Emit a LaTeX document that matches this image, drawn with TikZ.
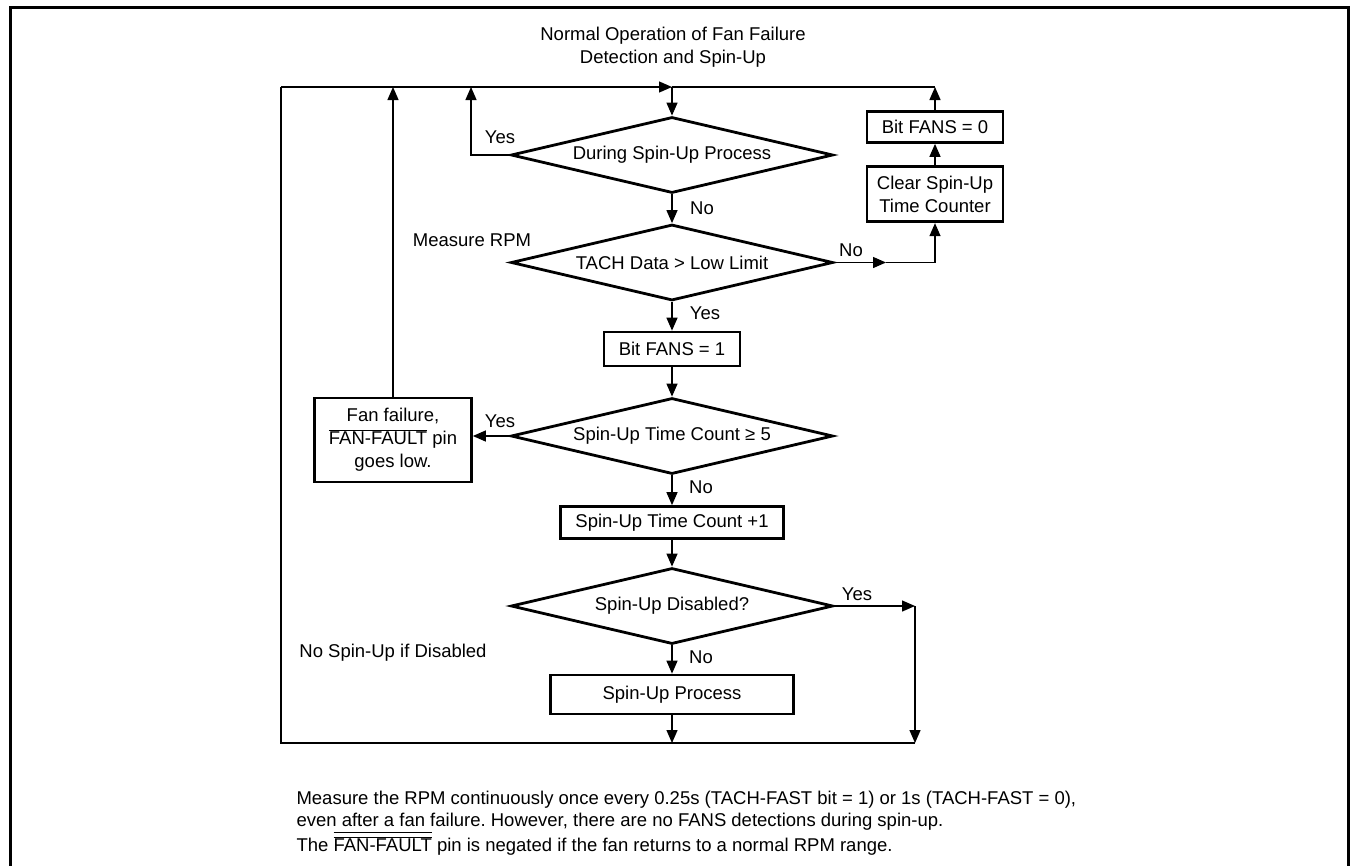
\documentclass[tikz,border=0pt]{standalone}
\usepackage{fontspec}
\setmainfont{Liberation Sans}
\usetikzlibrary{shapes.geometric,arrows.meta}
\frenchspacing
\newcommand{\fanfault}{$\overline{\hbox{FAN-FAULT}}$}
\begin{document}
\begin{tikzpicture}[x=1pt,y=-1pt,
    every node/.style={font=\fontsize{18.5}{23}\selectfont},
    box/.style={draw,line width=2.7pt,inner sep=0pt,align=center},
    dec/.style={draw,diamond,aspect=4.2,line width=2.8pt,inner sep=0pt,minimum width=322pt,minimum height=76pt},
    wire/.style={line width=1.3pt},
    arr/.style={line width=1.3pt,-{Triangle[length=13pt,width=11pt]}}]
    \useasboundingbox (0,0) rectangle (1351,865);
    \draw[line width=3pt] (10,870) -- (10,7.5) -- (1348.5,7.5) -- (1348.5,870);
    \node[align=center] (title) at (673,47.7) {Normal Operation of Fan Failure\\Detection and Spin-Up};
    \node[dec] (spin) at (672,155) {During Spin-Up Process};
    \node[dec] (tach) at (672,262.5) {TACH Data > Low Limit};
    \node[box,minimum width=136pt,minimum height=34pt] (fansone) at (672,349) {Bit FANS = 1};
    \node[dec] (count) at (672,436) {Spin-Up Time Count ≥ 5};
    \node[box,minimum width=223pt,minimum height=32pt] (inc) at (672,522.5) {Spin-Up Time Count +1};
    \node[dec] (disabled) at (672,606) {Spin-Up Disabled?};
    \node[box,minimum width=243pt,minimum height=39pt] (process) at (672,694.5) {Spin-Up Process};
    \node[box,minimum width=136pt,minimum height=55pt] (clear) at (935,194.3) {Clear Spin-Up\\Time Counter};
    \node[box,minimum width=136pt,minimum height=31pt] (fanszero) at (935,127) {Bit FANS = 0};
    \node[box,minimum width=157pt,minimum height=84pt] (fail) at (393,440) {Fan failure,\\\fanfault{} pin\\goes low.};
    \coordinate (tl) at (281,87);
    \coordinate (tj) at (672,87);
    \coordinate (tr) at (935,87);
    \coordinate (ty) at (471,87);
    \coordinate (tf) at (393,87);
    \coordinate (bl) at (281,743);
    \coordinate (bj) at (672,743);
    \coordinate (br) at (915,743);
    \coordinate (yr) at (915,606);
    \coordinate (nr) at (886,262.5);
    \draw[wire] (br) -- (bl) -- (tl);
    \draw[arr] (tl) -- (tj);
    \draw[wire] (tj) -- (tr);
    \draw[arr] (tj) -- (spin.north);
    \draw[arr] (spin.west) -| (ty);
    \draw[arr] (spin.south) -- (tach.north);
    \draw[arr] (tach.east) -- (nr);
    \draw[arr] (nr) -| (clear.south);
    \draw[arr] (clear.north) -- (fanszero.south);
    \draw[arr] (fanszero.north) -- (tr);
    \draw[arr] (tach.south) -- (fansone.north);
    \draw[arr] (fansone.south) -- (count.north);
    \draw[arr] (count.west) -- (count.west -| fail.east);
    \draw[arr] (fail.north) -- (tf);
    \draw[arr] (count.south) -- (inc.north);
    \draw[arr] (inc.south) -- (disabled.north);
    \draw[arr] (disabled.south) -- (process.north);
    \draw[arr] (process.south) -- (bj);
    \draw[arr] (disabled.east) -- (yr);
    \draw[arr] (yr) -- (br);
    \node (yesspin) at (500,137) {Yes};
    \node (nospin) at (702,208) {No};
    \node (measure) at (472,240) {Measure RPM};
    \node (notach) at (851,250) {No};
    \node (yestach) at (705,313) {Yes};
    \node (yescount) at (500,421) {Yes};
    \node (nocount) at (701,487) {No};
    \node (yesdis) at (857,594) {Yes};
    \node (nodis) at (701,657) {No};
    \node (nospinup) at (393,653) {No Spin-Up if Disabled};
    \node[anchor=west,align=left,font=\fontsize{18.5}{22.5}\selectfont] (note) at (293,823) {Measure the RPM continuously once every 0.25s (TACH-FAST bit = 1) or 1s (TACH-FAST = 0),\\even after a fan failure. However, there are no FANS detections during spin-up.\\The \rlap{\raisebox{5pt}{$\overline{\hbox{\phantom{FAN-FAULT}}}$}}\fanfault{} pin is negated if the fan returns to a normal RPM range.};
\end{tikzpicture}
\end{document}
